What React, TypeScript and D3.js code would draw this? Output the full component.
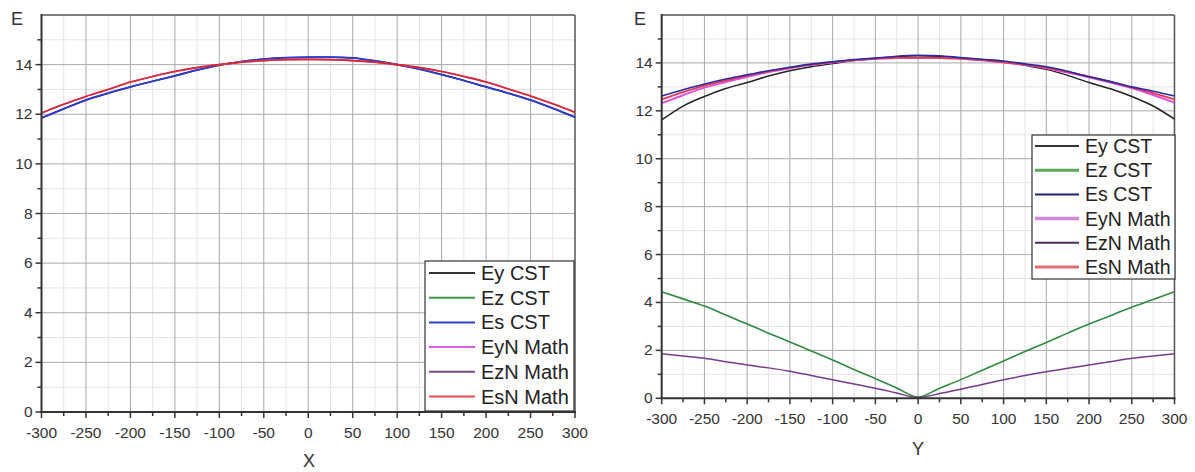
import React from "react";
import * as d3 from "d3";

const positions = [-300,-275,-250,-225,-200,-175,-150,-125,-100,-75,-50,-25,0,25,50,75,100,125,150,175,200,225,250,275,300];
const xTicks = [-300,-250,-200,-150,-100,-50,0,50,100,150,200,250,300];
const yTicks = [0,2,4,6,8,10,12,14];

const seriesNames = ["Ey CST","Ez CST","Es CST","EyN Math","EzN Math","EsN Math"];

// Panel X
const xEyCST = [11.85,12.22,12.57,12.85,13.1,13.33,13.55,13.78,13.98,14.12,14.22,14.28,14.3,14.3,14.27,14.15,14.0,13.82,13.6,13.36,13.1,12.85,12.57,12.24,11.88];
const xEzCST = [0,0,0,0,0,0,0,0,0,0,0,0,0,0,0,0,0,0,0,0,0,0,0,0,0];
const xEsCST = [11.85,12.22,12.57,12.85,13.1,13.33,13.55,13.78,13.98,14.12,14.22,14.28,14.3,14.3,14.27,14.15,14.0,13.82,13.6,13.36,13.1,12.85,12.57,12.24,11.88];
const xEyNMath = [12.05,12.4,12.72,13.0,13.3,13.52,13.72,13.88,14.0,14.1,14.16,14.2,14.21,14.2,14.16,14.1,14.0,13.88,13.72,13.52,13.3,13.02,12.74,12.42,12.08];
const xEzNMath = [0,0,0,0,0,0,0,0,0,0,0,0,0,0,0,0,0,0,0,0,0,0,0,0,0];
const xEsNMath = [12.05,12.4,12.72,13.0,13.3,13.52,13.72,13.88,14.0,14.1,14.16,14.2,14.21,14.2,14.16,14.1,14.0,13.88,13.72,13.52,13.3,13.02,12.74,12.42,12.08];

// Panel Y
const yEyCST = [11.62,12.2,12.6,12.93,13.18,13.45,13.67,13.84,13.97,14.1,14.18,14.26,14.3,14.28,14.2,14.13,14.05,13.9,13.73,13.48,13.18,12.92,12.6,12.2,11.65];
const yEzCST = [4.45,4.15,3.85,3.48,3.1,2.72,2.35,1.97,1.6,1.2,0.82,0.43,0.05,0.42,0.78,1.17,1.56,1.95,2.33,2.72,3.1,3.45,3.8,4.12,4.45];
const yEsCST = [12.62,12.88,13.12,13.33,13.5,13.67,13.82,13.95,14.05,14.14,14.2,14.28,14.32,14.3,14.22,14.15,14.08,13.96,13.84,13.65,13.42,13.22,13.0,12.82,12.62];
const yEyNMath = [12.32,12.65,12.97,13.2,13.42,13.62,13.78,13.92,14.02,14.11,14.17,14.2,14.21,14.2,14.17,14.11,14.02,13.92,13.78,13.6,13.4,13.18,12.95,12.66,12.34];
const yEzNMath = [1.86,1.77,1.67,1.53,1.39,1.27,1.13,0.95,0.77,0.6,0.42,0.22,0.03,0.2,0.38,0.58,0.77,0.95,1.11,1.25,1.39,1.53,1.67,1.77,1.86];
const yEsNMath = [12.48,12.78,13.05,13.27,13.47,13.65,13.8,13.93,14.03,14.12,14.18,14.21,14.22,14.21,14.18,14.12,14.03,13.93,13.8,13.63,13.43,13.22,12.98,12.74,12.48];

type Ser = { name: string; values: number[]; color: string; legendColor: string; width: number; legendWidth: number };

const FONT = "'Liberation Sans', Arial, sans-serif";

function Panel(props: {
  left: number; right: number; top: number; bottom: number;
  axisTitle: string; axisTitleX: number; axisTitleY: number;
  eX: number;
  series: Ser[]; drawOrder: number[];
  legend: { x0: number; x1: number; y0: number; y1: number; lineX0: number; lineX1: number; textX: number; rowY0: number; rowStep: number; fontSize: number };
}) {
  const { left, right, top, bottom, series, legend } = props;
  const x = d3.scaleLinear().domain([-300, 300]).range([left, right]);
  const y = d3.scaleLinear().domain([0, 16]).range([bottom, top]);
  const line = d3.line<number>().x((_, i) => x(positions[i])).y((v) => y(v)).curve(d3.curveMonotoneX);
  const minorX = d3.range(-275, 300, 50);
  const minorY = d3.range(1, 16, 2);
  const majorXGrid = xTicks.filter((t) => t > -300 && t < 300);
  const majorYGrid = [2,4,6,8,10,12,14];
  return (
    <g>
      {minorX.map((t) => (
        <line key={"mx" + t} x1={x(t)} x2={x(t)} y1={top} y2={bottom} stroke="#e4e4e4" strokeWidth={1} />
      ))}
      {minorY.map((t) => (
        <line key={"my" + t} x1={left} x2={right} y1={y(t)} y2={y(t)} stroke="#e4e4e4" strokeWidth={1} />
      ))}
      {majorXGrid.map((t) => (
        <line key={"gx" + t} x1={x(t)} x2={x(t)} y1={top} y2={bottom} stroke="#a8a8a8" strokeWidth={1} />
      ))}
      {majorYGrid.map((t) => (
        <line key={"gy" + t} x1={left} x2={right} y1={y(t)} y2={y(t)} stroke="#a8a8a8" strokeWidth={1} />
      ))}
      <line x1={left} x2={right} y1={top} y2={top} stroke="#555" strokeWidth={1.5} />
      <line x1={right} x2={right} y1={top} y2={bottom} stroke="#555" strokeWidth={1.5} />
      {props.drawOrder.map((si) => (
        <path key={series[si].name} d={line(series[si].values) || ""} fill="none" stroke={series[si].color} strokeWidth={series[si].width} />
      ))}
      <line x1={left} x2={left} y1={top - 1} y2={bottom + 1} stroke="#333" strokeWidth={2} />
      <line x1={left - 1} x2={right + 1} y1={bottom} y2={bottom} stroke="#333" strokeWidth={2} />
      {xTicks.map((t) => (
        <g key={"xt" + t}>
          <line x1={x(t)} x2={x(t)} y1={bottom} y2={bottom + 6} stroke="#333" strokeWidth={1.5} />
          <text x={x(t)} y={bottom + 26} textAnchor="middle" fontFamily={FONT} fontSize={15.5} fill="#333">{t}</text>
        </g>
      ))}
      {minorX.map((t) => (
        <line key={"xm" + t} x1={x(t)} x2={x(t)} y1={bottom} y2={bottom + 4} stroke="#333" strokeWidth={1.5} />
      ))}
      {yTicks.map((t) => (
        <g key={"yt" + t}>
          <line x1={left - 6} x2={left} y1={y(t)} y2={y(t)} stroke="#333" strokeWidth={1.5} />
          <text x={left - 9} y={y(t) + 5} textAnchor="end" fontFamily={FONT} fontSize={15.5} fill="#333">{t}</text>
        </g>
      ))}
      {minorY.map((t) => (
        <line key={"ym" + t} x1={left - 4} x2={left} y1={y(t)} y2={y(t)} stroke="#333" strokeWidth={1.5} />
      ))}
      <text x={props.eX} y={25} fontFamily={FONT} fontSize={18} fill="#333">E</text>
      <text x={props.axisTitleX} y={props.axisTitleY} textAnchor="middle" fontFamily={FONT} fontSize={18} fill="#333">{props.axisTitle}</text>
      <rect x={legend.x0} y={legend.y0} width={legend.x1 - legend.x0} height={legend.y1 - legend.y0} fill="#fff" stroke="#333" strokeWidth={1.2} />
      {series.map((s, i) => {
        const ry = legend.rowY0 + i * legend.rowStep;
        return (
          <g key={"lg" + s.name}>
            <line x1={legend.lineX0} x2={legend.lineX1} y1={ry} y2={ry} stroke={s.legendColor} strokeWidth={s.legendWidth} />
            <text x={legend.textX} y={ry + 7} fontFamily={FONT} fontSize={legend.fontSize} fill="#222">{s.name}</text>
          </g>
        );
      })}
    </g>
  );
}

export default function App() {
  const leftSeries: Ser[] = [
    { name: seriesNames[0], values: xEyCST, color: "#222", legendColor: "#333", width: 1.6, legendWidth: 2 },
    { name: seriesNames[1], values: xEzCST, color: "#2a8a3a", legendColor: "#3a9a4a", width: 1.6, legendWidth: 2 },
    { name: seriesNames[2], values: xEsCST, color: "#2b3bd0", legendColor: "#3040d0", width: 1.8, legendWidth: 2 },
    { name: seriesNames[3], values: xEyNMath, color: "#e040d8", legendColor: "#e060e0", width: 1.6, legendWidth: 2 },
    { name: seriesNames[4], values: xEzNMath, color: "#9a5aa8", legendColor: "#7a4a8a", width: 2.2, legendWidth: 2 },
    { name: seriesNames[5], values: xEsNMath, color: "#d82828", legendColor: "#e05050", width: 1.6, legendWidth: 2 },
  ];
  const rightSeries: Ser[] = [
    { name: seriesNames[0], values: yEyCST, color: "#222", legendColor: "#333", width: 1.5, legendWidth: 2 },
    { name: seriesNames[1], values: yEzCST, color: "#2e8a3e", legendColor: "#5aa85a", width: 1.6, legendWidth: 3 },
    { name: seriesNames[2], values: yEsCST, color: "#2a2aa0", legendColor: "#1c2470", width: 1.6, legendWidth: 2 },
    { name: seriesNames[3], values: yEyNMath, color: "#e050e0", legendColor: "#d08ad8", width: 2, legendWidth: 3.5 },
    { name: seriesNames[4], values: yEzNMath, color: "#7a3a8a", legendColor: "#4a2a5a", width: 1.5, legendWidth: 2 },
    { name: seriesNames[5], values: yEsNMath, color: "#e03a50", legendColor: "#e07070", width: 1.8, legendWidth: 3 },
  ];
  return (
    <svg width={1195} height={472} style={{ position: "absolute", left: 0, top: 0, background: "#fff" }}>
      <rect x={0} y={0} width={1195} height={472} fill="#fff" />
      <Panel
        left={41.5} right={575} top={15} bottom={412}
        axisTitle="X" axisTitleX={309} axisTitleY={467} eX={11}
        series={leftSeries} drawOrder={[0, 1, 4, 2, 3, 5]}
        legend={{ x0: 425, x1: 574, y0: 261, y1: 411, lineX0: 429, lineX1: 475, textX: 481, rowY0: 273, rowStep: 24.7, fontSize: 20 }}
      />
      <Panel
        left={661.7} right={1174.5} top={15} bottom={398.3}
        axisTitle="Y" axisTitleX={918} axisTitleY={455} eX={634}
        series={rightSeries} drawOrder={[1, 4, 0, 3, 5, 2]}
        legend={{ x0: 1032, x1: 1175, y0: 135, y1: 279, lineX0: 1035, lineX1: 1079, textX: 1085, rowY0: 146, rowStep: 24.2, fontSize: 19.5 }}
      />
    </svg>
  );
}
